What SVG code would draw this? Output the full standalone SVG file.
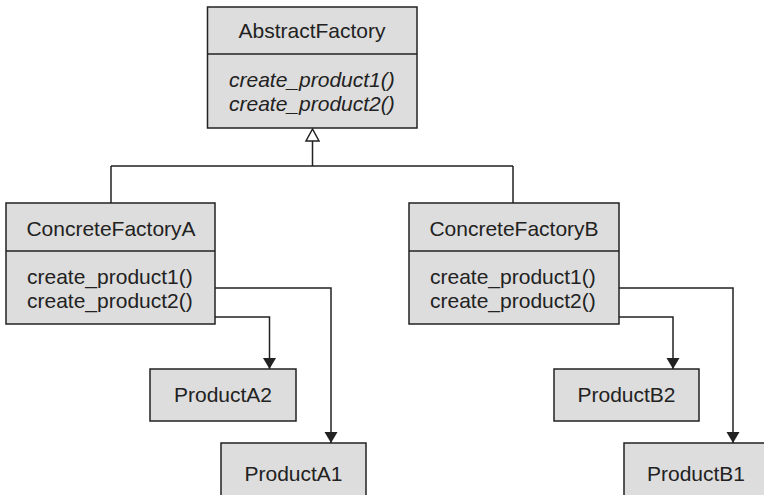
<svg xmlns="http://www.w3.org/2000/svg" width="764" height="495" viewBox="0 0 764 495">
<defs>
<style>
.box{fill:#dddddd;stroke:#222;stroke-width:1.5}
.ln{fill:none;stroke:#222;stroke-width:1.5}
text{font-family:"Liberation Sans",Arial,sans-serif;font-size:21px;fill:#222}
.c{text-anchor:middle}
.i{font-style:italic}
</style>
<marker id="arr" markerWidth="12" markerHeight="14" refX="11" refY="7" orient="auto" markerUnits="userSpaceOnUse">
<path d="M0,0.5 L11,7 L0,13.5 Z" fill="#222"/>
</marker>
</defs>
<rect width="764" height="495" fill="#fff"/>
<g id="connectors">
<path class="ln" d="M312.5,141 V166 M111,166 H513 M111,166 V203 M513,166 V203"/>
<path d="M312.5,129 L306,141 L319,141 Z" fill="#fff" stroke="#222" stroke-width="1.5"/>
<path class="ln" d="M215,288 H331 V443" marker-end="url(#arr)"/>
<path class="ln" d="M215,317 H269.5 V369" marker-end="url(#arr)"/>
<path class="ln" d="M619,288 H733 V443" marker-end="url(#arr)"/>
<path class="ln" d="M619,317 H673 V369" marker-end="url(#arr)"/>
</g>
<g id="AbstractFactory">
<rect class="box" x="207.5" y="7" width="209.5" height="121"/>
<line class="ln" x1="207.5" y1="54" x2="417" y2="54"/>
<text class="c" x="312" y="38">AbstractFactory</text>
<text class="i" x="229" y="87">create_product1()</text>
<text class="i" x="229" y="111">create_product2()</text>
</g>
<g id="ConcreteFactoryA">
<rect class="box" x="6" y="203" width="209" height="121"/>
<line class="ln" x1="6" y1="251" x2="215" y2="251"/>
<text class="c" x="111" y="236">ConcreteFactoryA</text>
<text x="27" y="284">create_product1()</text>
<text x="27" y="308">create_product2()</text>
</g>
<g id="ConcreteFactoryB">
<rect class="box" x="409" y="203" width="210" height="121"/>
<line class="ln" x1="409" y1="251" x2="619" y2="251"/>
<text class="c" x="514" y="236">ConcreteFactoryB</text>
<text x="430" y="284">create_product1()</text>
<text x="430" y="308">create_product2()</text>
</g>
<g id="ProductA2">
<rect class="box" x="150" y="369" width="146" height="52"/>
<text class="c" x="223" y="402">ProductA2</text>
</g>
<g id="ProductA1">
<rect class="box" x="221" y="443" width="145" height="60"/>
<text class="c" x="293.5" y="481">ProductA1</text>
</g>
<g id="ProductB2">
<rect class="box" x="554" y="369" width="145" height="52"/>
<text class="c" x="626.5" y="402">ProductB2</text>
</g>
<g id="ProductB1">
<rect class="box" x="624" y="443" width="145" height="60"/>
<text class="c" x="696" y="481">ProductB1</text>
</g>
</svg>
